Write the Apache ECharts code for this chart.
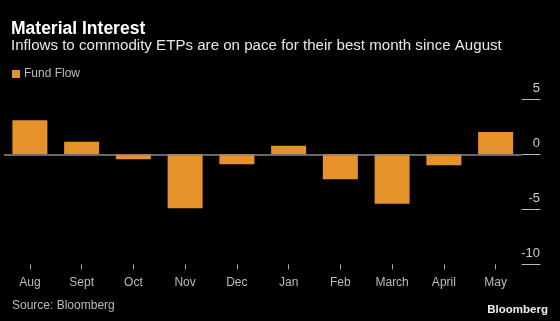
<!DOCTYPE html>
<html>
<head>
<meta charset="utf-8">
<script src="https://cdn.jsdelivr.net/npm/echarts@6/dist/echarts.min.js"></script>
<style>
html,body{margin:0;padding:0;background:#000;}
#c{width:560px;height:321px;}
</style>
</head>
<body>
<div id="c"></div>
<script>
var categories = ['Aug', 'Sept', 'Oct', 'Nov', 'Dec', 'Jan', 'Feb', 'March', 'April', 'May'];
var fundFlow = [3.1, 1.15, -0.45, -4.9, -0.9, 0.78, -2.27, -4.5, -1.0, 2.03];
var yTicks = [-10, -5, 0, 5];

var FONT = '"Liberation Sans", Arial, sans-serif';
var chart = echarts.init(document.getElementById('c'), null, {renderer: 'canvas'});
chart.setOption({
  backgroundColor: '#000',
  animation: false,
  title: [
    {text: 'Material Interest', left: 11, top: 20, padding: 0,
     textStyle: {color: '#fff', fontSize: 17.5, fontWeight: 'bold', fontFamily: FONT}},
    {text: 'Inflows to commodity ETPs are on pace for their best month since August', left: 11, top: 38, padding: 0,
     textStyle: {color: '#e8e8e8', fontSize: 15.1, fontWeight: 'normal', fontFamily: FONT}},
    {text: 'Source: Bloomberg', left: 12, top: 300, padding: 0,
     textStyle: {color: '#bbb', fontSize: 12, fontWeight: 'normal', fontFamily: FONT}},
    {text: 'Bloomberg', right: 12, top: 304, padding: 0,
     textStyle: {color: '#eee', fontSize: 11.5, fontWeight: 'bold', fontFamily: FONT}}
  ],
  legend: {
    data: ['Fund Flow'], left: 12, top: 68, padding: 0,
    itemWidth: 8, itemHeight: 8, itemGap: 5, icon: 'rect',
    textStyle: {color: '#bbb', fontSize: 12, fontFamily: FONT, padding: [0, 0, 0, -1]}
  },
  grid: {left: 4, right: 38.5, top: 99.3, bottom: 56.7, containLabel: false},
  xAxis: {
    type: 'category', data: categories,
    axisLine: {show: false, onZero: false},
    axisTick: {show: true, alignWithLabel: true, length: 5, lineStyle: {color: '#aaa'}},
    axisLabel: {color: '#bbb', fontSize: 12, fontFamily: FONT, margin: 12}
  },
  yAxis: {
    type: 'value', position: 'right', min: -10, max: 5, interval: 5,
    axisLine: {show: false},
    splitLine: {show: false},
    axisTick: {show: true, length: 19, lineStyle: {color: '#bbb'}},
    axisLabel: {color: '#ccc', fontSize: 13, fontFamily: FONT, align: 'right', margin: 18.5,
      verticalAlign: 'bottom', padding: [0, 0, 4, 0]}
  },
  series: [{
    name: 'Fund Flow', type: 'bar', data: fundFlow, barWidth: 35,
    itemStyle: {color: '#e5922b'},
    markLine: {
      silent: true, symbol: 'none', label: {show: false},
      lineStyle: {color: '#8a8a8a', type: 'solid', width: 1.5},
      data: [{yAxis: 0}]
    }
  }]
});
</script>
</body>
</html>
